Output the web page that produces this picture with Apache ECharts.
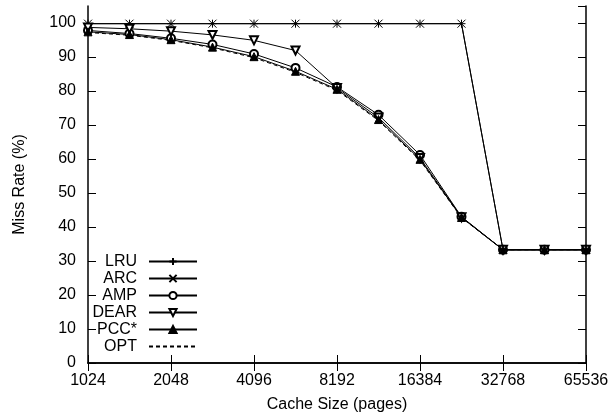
<!DOCTYPE html>
<html>
<head>
<meta charset="utf-8">
<script src="https://cdn.jsdelivr.net/npm/echarts@6/dist/echarts.min.js"></script>
<style>
  html, body { margin: 0; padding: 0; background: #fff; }
  #chart { width: 613px; height: 419px; }
</style>
</head>
<body>
<div id="chart"></div>
<script>
/* Miss rate vs cache size: six policies, log2 x axis, gnuplot-like look. */

const cacheSizes = [1024, 1448, 2048, 2896, 4096, 5793, 8192, 11585, 16384, 23170, 32768, 46341, 65536];

const lruMiss  = [99.8, 99.8, 99.8, 99.8, 99.8, 99.8, 99.8, 99.8, 99.8, 99.8, 33.3, 33.3, 33.3];
const arcMiss  = [99.8, 99.8, 99.8, 99.8, 99.8, 99.8, 99.8, 99.8, 99.8, 99.8, 33.3, 33.3, 33.3];
const ampMiss  = [97.8, 96.9, 95.5, 93.7, 90.9, 86.8, 81.2, 73.0, 61.2, 43.0, 33.3, 33.3, 33.3];
const dearMiss = [98.7, 98.3, 97.6, 96.5, 94.9, 91.9, 80.9, 72.2, 60.3, 42.9, 33.3, 33.3, 33.3];
const pccMiss  = [97.4, 96.6, 95.1, 92.9, 90.1, 85.8, 80.5, 71.6, 59.9, 42.8, 33.3, 33.3, 33.3];
const optMiss  = [97.2, 96.4, 94.9, 92.7, 89.8, 85.5, 80.2, 71.3, 59.6, 42.7, 33.3, 33.3, 33.3];

const FONT = '"Liberation Sans", Arial, sans-serif';
const INK = '#000';

const PLUS = 'path://M0,5L10,5M5,0L5,10';
const CROSS = 'path://M0,0L10,10M0,10L10,0';

const pairs = vals => cacheSizes.map((x, i) => [x, vals[i]]);

function line(name, vals, symbol, extra = {}) {
  return Object.assign({
    name,
    type: 'line',
    data: pairs(vals),
    symbol,
    symbolSize: 8,
    showSymbol: symbol !== 'none',
    lineStyle: { color: INK, width: 1 },
    itemStyle: { color: INK, borderColor: INK, borderWidth: 1 },
    emphasis: { disabled: true },
  }, extra);
}

const tickStyle = { inside: true, length: 8, lineStyle: { color: INK, width: 1 } };
const borderLine = { show: true, lineStyle: { color: INK, width: 1.5 } };

const chart = echarts.init(document.getElementById('chart'), null, { renderer: 'canvas' });

chart.setOption({
  animation: false,
  backgroundColor: '#fff',
  grid: { left: 88, right: 27, top: 6, bottom: 56 },
  legend: {
    orient: 'vertical',
    align: 'right',
    right: 415, top: 253,
    padding: 0,
    itemWidth: 48, itemHeight: 9, itemGap: 0,
    selectedMode: false,
    textStyle: { color: INK, fontFamily: FONT, fontSize: 16, lineHeight: 17, padding: [0, 7, 0, 0] },
    data: ['LRU', 'ARC', 'AMP', 'DEAR', 'PCC*', { name: 'OPT', itemStyle: { opacity: 0 } }],
  },
  xAxis: [{
    type: 'log', logBase: 2,
    min: 1024, max: 65536,
    name: 'Cache Size (pages)', nameLocation: 'middle', nameGap: 34,
    nameTextStyle: { color: INK, fontFamily: FONT, fontSize: 16 },
    axisLine: borderLine,
    axisTick: tickStyle,
    splitLine: { show: false },
    axisLabel: {
      color: INK, fontFamily: FONT, fontSize: 16, margin: 10,
      formatter: v => String(Math.round(v)),
    },
  }, {
    type: 'log', logBase: 2,
    min: 1024, max: 65536,
    position: 'top',
    axisLine: borderLine,
    axisTick: tickStyle,
    splitLine: { show: false },
    axisLabel: { show: false },
  }],
  yAxis: [{
    type: 'value',
    min: 0, max: 105, interval: 10,
    name: 'Miss Rate (%)', nameLocation: 'middle', nameGap: 60, nameRotate: 90,
    nameTextStyle: { color: INK, fontFamily: FONT, fontSize: 16 },
    axisLine: borderLine,
    axisTick: tickStyle,
    splitLine: { show: false },
    axisLabel: { color: INK, fontFamily: FONT, fontSize: 16, margin: 12, showMaxLabel: false },
  }, {
    type: 'value',
    min: 0, max: 105, interval: 10,
    position: 'right',
    axisLine: borderLine,
    axisTick: tickStyle,
    splitLine: { show: false },
    axisLabel: { show: false },
  }],
  series: [
    line('LRU', lruMiss, PLUS),
    line('ARC', arcMiss, CROSS),
    line('AMP', ampMiss, 'emptyCircle'),
    line('DEAR', dearMiss, 'emptyTriangle', { symbolRotate: 180 }),
    line('PCC*', pccMiss, 'triangle'),
    line('OPT', optMiss, 'none', { lineStyle: { color: INK, width: 1, type: [4, 3] } }),
  ],
});
</script>
</body>
</html>
